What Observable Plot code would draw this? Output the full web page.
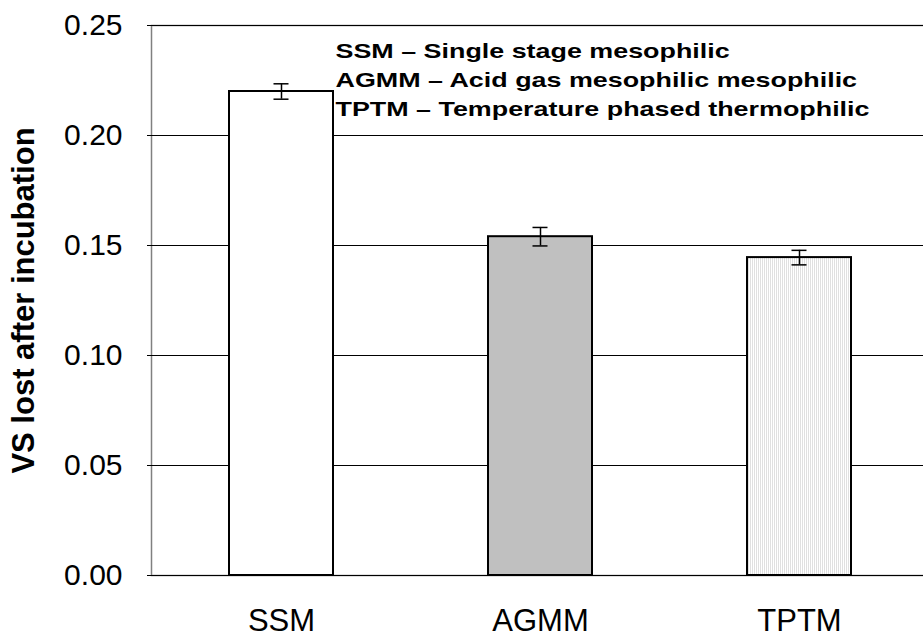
<!DOCTYPE html>
<html>
<head>
<meta charset="utf-8">
<script src="https://cdn.jsdelivr.net/npm/d3@7"></script>
<script src="https://cdn.jsdelivr.net/npm/@observablehq/plot@0.6"></script>
<style>
  html, body { margin: 0; padding: 0; background: white; overflow: hidden; }
</style>
</head>
<body>
<div id="chart"></div>
<script>
// Digestion configurations and volatile solids lost after incubation
const methods = ["SSM", "AGMM", "TPTM"];
const vsLost = [0.220, 0.154, 0.1445];
const vsErr = [0.0035, 0.0042, 0.0033];
const yTicks = [0, 0.05, 0.10, 0.15, 0.20, 0.25];
const yTitle = "VS lost after incubation";
const legendLines = [
  "SSM – Single stage mesophilic",
  "AGMM – Acid gas mesophilic mesophilic",
  "TPTM – Temperature phased thermophilic"
];

const rows = methods.map((m, i) => ({
  method: m,
  value: vsLost[i],
  lo: vsLost[i] - vsErr[i],
  hi: vsLost[i] + vsErr[i]
}));

// bar fills per configuration (TPTM uses a fine vertical stripe pattern)
const barFill = {SSM: "white", AGMM: "#c0c0c0", TPTM: "url(#tptm-stripes)"};

const font = "'Liberation Sans', Arial, Helvetica, sans-serif";

const svg = Plot.plot({
  width: 923,
  height: 640,
  marginLeft: 151,
  marginTop: 25,
  marginBottom: 65,
  marginRight: -6,
  style: {fontFamily: font, background: "white", color: "black"},
  x: {domain: methods, paddingInner: 0.6, paddingOuter: 0.3, axis: null},
  y: {domain: [0, 0.25], axis: null},
  color: {type: "identity"},
  marks: [
    Plot.frame({stroke: "#808080", strokeWidth: 1.5}),
    Plot.ruleY(yTicks, {stroke: "black", strokeWidth: 1}),
    Plot.axisY({
      ticks: yTicks, tickSize: 4, tickPadding: 25, tickFormat: ".2f",
      fontSize: 30, stroke: "black", strokeWidth: 1
    }),
    Plot.barY(rows, {
      x: "method", y: "value",
      fill: d => barFill[d.method],
      stroke: "black", strokeWidth: 2
    }),
    Plot.ruleX(rows, {x: "method", y1: "lo", y2: "hi", stroke: "black", strokeWidth: 1.5}),
    Plot.tickY(rows, {x: "method", y: "hi", insetLeft: 44.5, insetRight: 44.5, stroke: "black", strokeWidth: 1.5}),
    Plot.tickY(rows, {x: "method", y: "lo", insetLeft: 44.5, insetRight: 44.5, stroke: "black", strokeWidth: 1.5}),
    Plot.axisX({tickSize: 0, tickPadding: 33, fontSize: 31, label: null}),
    Plot.text([yTitle], {
      text: d => d, frameAnchor: "left", textAnchor: "middle",
      rotate: -90, dx: -127, fontSize: 31, fontWeight: "bold"
    }),
    Plot.text([legendLines.join("\n")], {
      text: d => d, frameAnchor: "top-left", textAnchor: "start",
      lineAnchor: "top", lineHeight: 29 / 21,
      dx: 184, dy: 12, fontSize: 21, fontWeight: "bold"
    })
  ]
});

// stripe pattern used by the TPTM bar
const defs = d3.select(svg).insert("defs", ":first-child");
const pat = defs.append("pattern")
  .attr("id", "tptm-stripes")
  .attr("patternUnits", "userSpaceOnUse")
  .attr("width", 2).attr("height", 4);
pat.append("rect").attr("width", 2).attr("height", 4).attr("fill", "white");
pat.append("rect").attr("width", 1).attr("height", 4).attr("fill", "#e0e0e0");

// the key text is set wide
d3.select(svg).selectAll("text")
  .filter(function () { return this.textContent.includes("Single stage"); })
  .attr("transform", function () { return (this.getAttribute("transform") || "") + " scale(1.28,1)"; });

document.getElementById("chart").appendChild(svg);
</script>
</body>
</html>
